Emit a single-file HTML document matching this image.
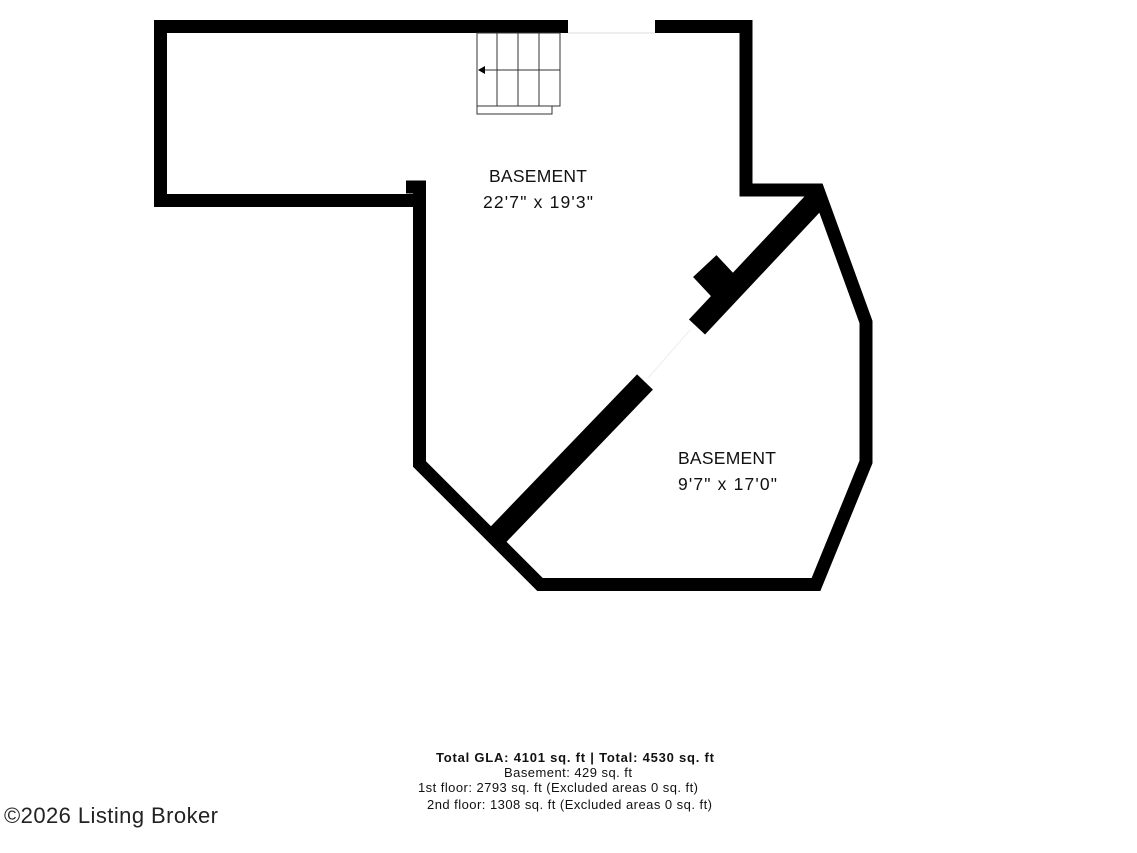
<!DOCTYPE html>
<html><head><style>
body{margin:0;background:#fff;width:1137px;height:853px;overflow:hidden}
svg{position:absolute;left:0;top:0}
</style></head><body>
<svg width="1137" height="853" viewBox="0 0 1137 853">
<g fill="none" stroke="#000" stroke-linejoin="miter">
<polyline points="568,26.5 160.5,26.5 160.5,200.5 419.5,200.5" stroke-width="13"/>
<polyline points="419.5,181 419.5,464 540,584.5 816,584.5 866,462 866,322 818,190 746,190 746,26.5 655,26.5" stroke-width="13"/>
<line x1="406" y1="187" x2="426" y2="187" stroke-width="13"/>
<line x1="820" y1="196" x2="697" y2="327" stroke-width="22"/>
<line x1="645" y1="382" x2="493" y2="540" stroke-width="22"/>
<line x1="568" y1="33" x2="655" y2="33" stroke="#ddd" stroke-width="1"/>
<line x1="690" y1="330" x2="648" y2="378" stroke="#eee" stroke-width="1"/>
</g>
<rect x="699" y="262" width="32" height="30" fill="#000" transform="rotate(-43 715 277)"/>
<g fill="none" stroke="#333" stroke-width="1">
<rect x="477" y="33" width="83" height="73"/>
<line x1="497" y1="33" x2="497" y2="106"/><line x1="518" y1="33" x2="518" y2="106"/><line x1="539" y1="33" x2="539" y2="106"/>
<line x1="481" y1="70" x2="560" y2="70"/>
<rect x="477" y="106" width="75" height="8"/>
</g>
<polygon points="478,70 485,66 485,74" fill="#000"/>
<g font-family="Liberation Sans, sans-serif" fill="#111">
<text x="489" y="182" font-size="17.5" textLength="98">BASEMENT</text>
<text x="483" y="208" font-size="17.5" textLength="110">22'7" x 19'3"</text>
<text x="678" y="464" font-size="17.5" textLength="98">BASEMENT</text>
<text x="678" y="490" font-size="17.5" textLength="99">9'7" x 17'0"</text>
<text x="436" y="762" font-size="13" font-weight="bold" textLength="278">Total GLA: 4101 sq. ft | Total: 4530 sq. ft</text>
<text x="504" y="777" font-size="13" textLength="128">Basement: 429 sq. ft</text>
<text x="418" y="792" font-size="13" textLength="280">1st floor: 2793 sq. ft (Excluded areas 0 sq. ft)</text>
<text x="427" y="809" font-size="13" textLength="285">2nd floor: 1308 sq. ft (Excluded areas 0 sq. ft)</text>
<text x="4" y="823" font-size="22" fill="#222" textLength="214">©2026 Listing Broker</text>
</g>
</svg>
</body></html>
